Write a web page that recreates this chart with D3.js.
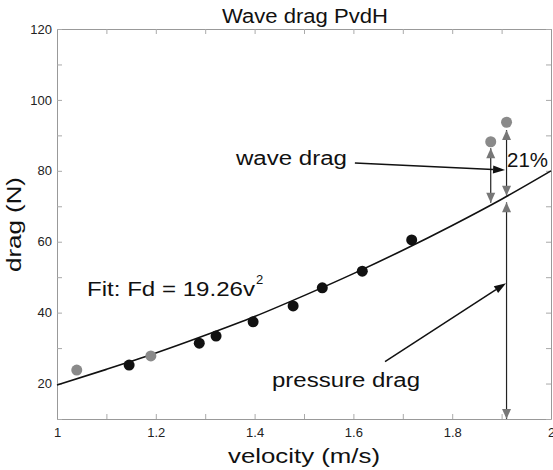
<!DOCTYPE html>
<html>
<head>
<meta charset="utf-8">
<script src="https://cdn.jsdelivr.net/npm/d3@7"></script>
<style>
  body { margin: 0; background: #fff; }
  svg { display: block; font-family: "Liberation Sans", Arial, sans-serif; }
</style>
</head>
<body>
<svg id="chart" width="553" height="470"></svg>
<script>
// measured points (black = fitted, grey = excluded / wave drag case)
let blackV = [1.146, 1.288, 1.322, 1.397, 1.478, 1.537, 1.618, 1.718];
let blackF = [25.2, 31.4, 33.4, 37.4, 41.9, 47.0, 51.7, 60.5];
let greyV = [1.040, 1.190, 1.878, 1.910];
let greyF = [23.8, 27.8, 88.2, 93.7];

// fit curve as drawn in the picture
let fitV = [1.0, 1.1, 1.2, 1.3, 1.4, 1.5, 1.6, 1.7, 1.8, 1.9, 2.0];
let fitF = [19.6, 24.0, 28.6, 33.6, 38.9, 44.8, 51.0, 57.6, 64.6, 72.0, 80.0];

// double arrows: [velocity, low, high]
let waveArrows = [[1.878, 71.0, 86.4], [1.910, 73.0, 91.5]];
let pressureArrow = [1.910, 10.0, 72.6];

let xTicks = d3.range(10, 21).map(d => d / 10);
let yTicks = d3.range(10, 121, 10);

let svg = d3.select("#chart");
let x = d3.scaleLinear().domain([1, 2]).range([57, 551]);
let y = d3.scaleLinear().domain([10, 120]).range([419, 29]);

function labelX(d) { return Math.round(d * 10) % 2 === 0 ? d3.format("~g")(d) : ""; }
function labelY(d) { return d % 20 === 0 ? d : ""; }

function styleAxis(g) {
  g.select(".domain").attr("stroke", "#999");
  g.selectAll(".tick line").attr("stroke", "#aaa");
  g.selectAll(".tick text").attr("fill", "#222").attr("font-size", 13)
    .attr("font-family", "Liberation Sans, Arial, sans-serif");
}

svg.append("g").attr("transform", "translate(0,419)")
  .call(d3.axisBottom(x).tickValues(xTicks).tickFormat(labelX).tickSizeInner(-5).tickSizeOuter(0).tickPadding(9))
  .call(styleAxis);
svg.append("g").attr("transform", "translate(0,29)")
  .call(d3.axisTop(x).tickValues(xTicks).tickFormat("").tickSizeInner(-5).tickSizeOuter(0))
  .call(styleAxis);
svg.append("g").attr("transform", "translate(57,0)")
  .call(d3.axisLeft(y).tickValues(yTicks).tickFormat(labelY).tickSizeInner(-5).tickSizeOuter(0).tickPadding(5))
  .call(styleAxis);
svg.append("g").attr("transform", "translate(551,0)")
  .call(d3.axisRight(y).tickValues(yTicks).tickFormat("").tickSizeInner(-5).tickSizeOuter(0))
  .call(styleAxis);

// fit curve
svg.append("path")
  .datum(fitV.map((v, i) => [v, fitF[i]]))
  .attr("fill", "none").attr("stroke", "#111").attr("stroke-width", 1.6)
  .attr("d", d3.line().x(d => x(d[0])).y(d => y(d[1])).curve(d3.curveMonotoneX));

// arrows
let grey = "#777";
function head(px, py, dir, color, len, half) {
  // dir: +1 pointing down, -1 pointing up
  svg.append("path")
    .attr("d", `M${px},${py} L${px - half},${py - dir * len} L${px + half},${py - dir * len} Z`)
    .attr("fill", color);
}
function doubleArrow(v, lo, hi) {
  let px = x(v);
  svg.append("line").attr("x1", px).attr("x2", px).attr("y1", y(lo)).attr("y2", y(hi))
    .attr("stroke", "#222").attr("stroke-width", 1.2);
  head(px, y(hi), -1, grey, 10, 4.5);
  head(px, y(lo), 1, grey, 10, 4.5);
}
waveArrows.forEach(a => doubleArrow(a[0], a[1], a[2]));
doubleArrow(pressureArrow[0], pressureArrow[1], pressureArrow[2] - 1.5);

function pointer(v0, f0, v1, f1) {
  let x0 = x(v0), y0 = y(f0), x1 = x(v1), y1 = y(f1);
  let ang = Math.atan2(y1 - y0, x1 - x0);
  let len = 12, half = 4;
  let bx = x1 - len * Math.cos(ang), by = y1 - len * Math.sin(ang);
  svg.append("line").attr("x1", x0).attr("y1", y0).attr("x2", bx).attr("y2", by)
    .attr("stroke", "#111").attr("stroke-width", 1.5);
  svg.append("path")
    .attr("d", `M${x1},${y1} L${bx - half * Math.sin(ang)},${by + half * Math.cos(ang)} L${bx + half * Math.sin(ang)},${by - half * Math.cos(ang)} Z`)
    .attr("fill", "#111");
}
pointer(1.603, 82.2, 1.907, 80.2);
pointer(1.664, 26.2, 1.909, 48.3);

// points
svg.append("g").selectAll("circle").data(greyV).join("circle")
  .attr("cx", d => x(d)).attr("cy", (d, i) => y(greyF[i])).attr("r", 5.5).attr("fill", "#8a8a8a");
svg.append("g").selectAll("circle").data(blackV).join("circle")
  .attr("cx", d => x(d)).attr("cy", (d, i) => y(blackF[i])).attr("r", 5.5).attr("fill", "#111");

// texts
function txt(s, px, py, size, w) {
  return svg.append("text").attr("x", px).attr("y", py).attr("font-size", size)
    .attr("fill", "#111").attr("textLength", w).attr("lengthAdjust", "spacingAndGlyphs").text(s);
}
txt("Wave drag PvdH", 222, 23, 20, 166);
txt("wave drag", 236, 165, 20, 111);
txt("21%", 507, 167, 20, 41);
txt("pressure drag", 272, 387, 20, 148);
txt("velocity  (m/s)", 228, 463, 20, 152);
let fit = txt("Fit: Fd = 19.26v", 87, 296, 20, 168);
svg.append("text").attr("x", 256).attr("y", 284).attr("font-size", 13).attr("fill", "#111").text("2");
svg.append("text").attr("transform", "translate(21,272) rotate(-90)")
  .attr("font-size", 20).attr("fill", "#111")
  .attr("textLength", 95).attr("lengthAdjust", "spacingAndGlyphs").text("drag  (N)");
</script>
</body>
</html>
